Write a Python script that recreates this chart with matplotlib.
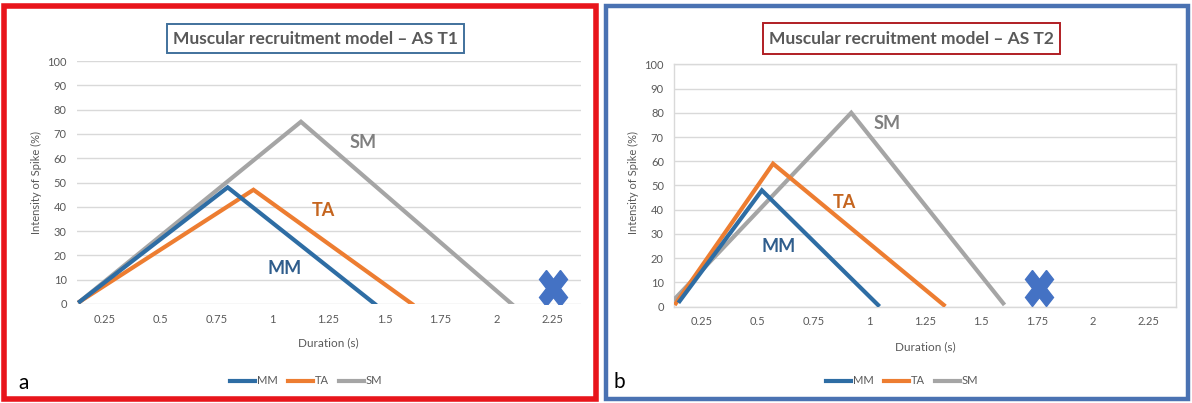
import matplotlib
matplotlib.use("Agg")
import matplotlib.pyplot as plt
from matplotlib.patches import Rectangle
from matplotlib.lines import Line2D
from matplotlib.markers import MarkerStyle
from matplotlib.transforms import Affine2D

plt.rcParams['font.family'] = ['Lato', 'DejaVu Sans']

# ---------------- data ----------------
x_ticks = [0.25, 0.5, 0.75, 1.0, 1.25, 1.5, 1.75, 2.0, 2.25]
x_ticklabels = ["0.25", "0.5", "0.75", "1", "1.25", "1.5", "1.75", "2", "2.25"]
y_ticks = [0, 10, 20, 30, 40, 50, 60, 70, 80, 90, 100]
series_names = ["MM", "TA", "SM"]

# Panel a (AS T1)
a_mm_x = [0.14, 0.80, 1.457]
a_mm_y = [1, 48, 0]
a_ta_x = [0.14, 0.915, 1.623]
a_ta_y = [1, 47, 0]
a_sm_x = [0.14, 1.127, 2.068]
a_sm_y = [1, 75, 0]
a_cross = (2.25, 6.6)
a_labels_xy = {"SM": (1.406, 66.4), "TA": (1.226, 38.5), "MM": (1.052, 14.8)}

# Panel b (AS T2)
b_mm_x = [0.152, 0.52, 1.04]
b_mm_y = [2.3, 48, 0.7]
b_ta_x = [0.135, 0.57, 1.334]
b_ta_y = [1.4, 59, 0.7]
b_sm_x = [0.13, 0.92, 1.60]
b_sm_y = [3.2, 80, 1.4]
b_cross = (1.76, 7.6)
b_labels_xy = {"SM": (1.081, 75.4), "TA": (0.888, 43.0), "MM": (0.597, 24.8)}

titles = ["Muscular recruitment model \u2013 AS T1", "Muscular recruitment model \u2013 AS T2"]

# ---------------- style ----------------
line_colors = {"MM": "#2E6DA4", "TA": "#ED7D31", "SM": "#A5A5A5"}
text_colors = {"MM": "#2F5D8C", "TA": "#C5651F", "SM": "#7F7F7F"}
cross_color = "#4472C4"
grid_color = "#D9D9D9"
tick_color = "#595959"

W, H = 1192, 403
fig = plt.figure(figsize=(W / 100, H / 100), dpi=100)


def fx(px):
    return px / W


def fy(py):
    return 1 - py / H


# frames
fig.patches.append(Rectangle((fx(4), fy(399)), fx(592), (397 - 4) / H, transform=fig.transFigure,
                             fill=False, edgecolor="#E8151B", linewidth=4))
fig.patches.append(Rectangle((fx(606), fy(399)), fx(582), (397 - 4) / H, transform=fig.transFigure,
                             fill=False, edgecolor="#4A72B2", linewidth=3.2))

axes_rects = [
    [fx(76.5), fy(304), fx(504), 243 / H],
    [fx(673.6), fy(306.7), fx(502.8), 242.4 / H],
]

panels = [
    ((a_mm_x, a_mm_y), (a_ta_x, a_ta_y), (a_sm_x, a_sm_y), a_cross, a_labels_xy),
    ((b_mm_x, b_mm_y), (b_ta_x, b_ta_y), (b_sm_x, b_sm_y), b_cross, b_labels_xy),
]

title_boxes = [(167, 24, 464, 53, "#41719C"), (763, 23, 1060, 54, "#B01E24")]
legend_centers = [(306, 381), (902, 381)]
ylabel_x = [36, 633]
xlabel_pos = [(328, 343), (925, 347)]
letters = [("a", 24, 383), ("b", 619, 382)]

cross_marker = MarkerStyle("X", transform=Affine2D().scale(0.9, 1.15))

for i, rect in enumerate(axes_rects):
    ax = fig.add_axes(rect)
    mm, ta, sm, cross, lab = panels[i]
    data = {"MM": mm, "TA": ta, "SM": sm}
    for name in ["SM", "TA", "MM"]:
        xs, ys = data[name]
        ax.plot(xs, ys, color=line_colors[name], lw=3, solid_joinstyle="miter", zorder=3)
    for name in series_names:
        tx, ty = lab[name]
        ax.text(tx, ty, name, color=text_colors[name], fontsize=13, fontweight="bold",
                ha="center", va="center", zorder=4)
    ax.plot([cross[0]], [cross[1]], marker=cross_marker, markersize=23, color=cross_color,
            markeredgecolor=cross_color, zorder=5)

    ax.set_xlim(0.125, 2.375)
    ax.set_ylim(0, 100)
    ax.set_xticks(x_ticks)
    ax.set_xticklabels(x_ticklabels)
    ax.set_yticks(y_ticks)
    ax.tick_params(length=0, labelsize=8, colors=tick_color, pad=7)
    ax.grid(axis="y", color=grid_color, lw=1, zorder=0)
    ax.set_axisbelow(True)
    for s in ax.spines.values():
        if i == 1:
            s.set_color(grid_color)
            s.set_linewidth(1)
        else:
            s.set_visible(False)

    # title box
    x0, y0, x1, y1, ec = title_boxes[i]
    fig.patches.append(Rectangle((fx(x0), fy(y1)), fx(x1 - x0), (y1 - y0) / H,
                                 transform=fig.transFigure, fill=False, edgecolor=ec, linewidth=1.4))
    fig.text(fx((x0 + x1) / 2), fy((y0 + y1) / 2 + 0.5), titles[i], ha="center", va="center",
             fontsize=12.5, fontweight="bold", color="#595959")

    fig.text(fx(ylabel_x[i]), fy(183), "Intensity of Spike (%)", rotation=90, ha="center",
             va="center", fontsize=8, color=tick_color)
    fig.text(fx(xlabel_pos[i][0]), fy(xlabel_pos[i][1]), "Duration (s)", ha="center",
             va="center", fontsize=8.5, color=tick_color)

    handles = [Line2D([0], [0], color=line_colors[n], lw=3) for n in series_names]
    lc = legend_centers[i]
    leg = fig.legend(handles, series_names, loc="center", bbox_to_anchor=(fx(lc[0]), fy(lc[1])),
                     ncol=3, frameon=False, fontsize=8, handlelength=2.3, handletextpad=0.15,
                     columnspacing=0.9)
    for t in leg.get_texts():
        t.set_color(tick_color)

    lt, lx, ly = letters[i]
    fig.text(fx(lx), fy(ly), lt, ha="center", va="center", fontsize=15, color="black")

fig.savefig("out.png", dpi=100)
